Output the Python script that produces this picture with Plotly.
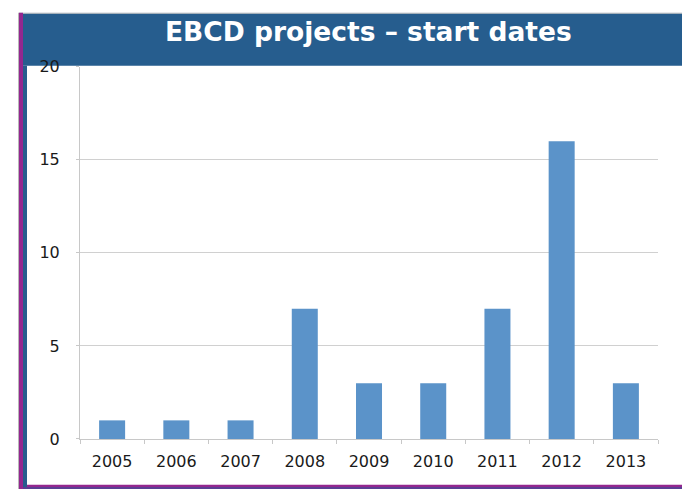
import plotly.graph_objects as go

W, H = 682, 499

years = ['2005', '2006', '2007', '2008', '2009', '2010', '2011', '2012', '2013']
counts = [1, 1, 1, 7, 3, 3, 7, 16, 3]
y_ticks = [0, 5, 10, 15, 20]
title_text = 'EBCD projects – start dates'


def px(x):
    return x / W


def py(y):
    return 1 - y / H


fig = go.Figure(
    go.Bar(
        x=years, y=counts, width=0.405,
        marker=dict(color='#5B93C9', line=dict(width=0)),
        hoverinfo='x+y',
    )
)

axis_col = '#C8C8C8'
tick_font = dict(family='DejaVu Sans', size=16, color='#1a1a1a')

fig.update_layout(
    autosize=True,
    margin=dict(l=0, r=0, t=0, b=0),
    paper_bgcolor='white', plot_bgcolor='white',
    showlegend=False,
    xaxis=dict(
        domain=[px(80), px(658)], type='category',
        showgrid=False, showline=True, linecolor=axis_col, linewidth=1,
        ticks='outside', tickson='boundaries', ticklen=4, tickcolor=axis_col,
        tickfont=tick_font, ticklabelstandoff=8,
    ),
    yaxis=dict(
        domain=[py(447), py(60)], range=[0, 20], tickvals=y_ticks,
        showgrid=True, gridcolor='#D0D0D0', gridwidth=1, zeroline=False,
        showline=True, linecolor=axis_col, linewidth=1,
        ticks='outside', ticklen=3, tickcolor=axis_col,
        tickfont=tick_font, ticklabelstandoff=13,
    ),
    shapes=[
        # title bar
        dict(type='rect', xref='paper', yref='paper', x0=px(23), x1=px(682), y0=py(59), y1=py(5),
             fillcolor='#265D8E', line=dict(width=0), layer='below'),
        dict(type='rect', xref='paper', yref='paper', x0=px(19), x1=px(682), y0=py(5), y1=py(4),
             fillcolor='#9AA4AE', line=dict(width=0), layer='below'),
        # left border
        dict(type='rect', xref='paper', yref='paper', x0=px(18), x1=px(19), y0=py(499), y1=py(4),
             fillcolor='#B8B8B8', line=dict(width=0), layer='above'),
        dict(type='rect', xref='paper', yref='paper', x0=px(19), x1=px(23), y0=py(499), y1=py(4),
             fillcolor='#93278F', line=dict(width=0), layer='above'),
        dict(type='rect', xref='paper', yref='paper', x0=px(23), x1=px(27), y0=py(499), y1=py(59),
             fillcolor='#265D8E', line=dict(width=0), layer='above'),
        # bottom border
        dict(type='rect', xref='paper', yref='paper', x0=px(27), x1=px(682), y0=py(497), y1=py(494.5),
             fillcolor='#93278F', line=dict(width=0), layer='above'),
        dict(type='rect', xref='paper', yref='paper', x0=px(23), x1=px(682), y0=py(499), y1=py(497),
             fillcolor='#5A3F93', line=dict(width=0), layer='above'),
    ],
    annotations=[
        dict(text=title_text, xref='paper', yref='paper', x=px(368), y=py(23.5),
             xanchor='center', yanchor='middle', showarrow=False,
             font=dict(family='DejaVu Sans', size=26.5, color='white', weight='bold')),
    ],
)

post = (
    "document.documentElement.style.margin='0';"
    "document.documentElement.style.overflow='hidden';"
    "document.body.style.margin='0';"
    "document.body.style.padding='0';"
    "document.body.style.overflow='hidden';"
    "var gd=document.getElementById('{plot_id}');"
    "gd.style.position='fixed';gd.style.left='0px';gd.style.top='0px';"
    "gd.style.width='100vw';gd.style.height='100vh';"
    "Plotly.Plots.resize(gd);"
)

fig.write_html('out.html', config={'displayModeBar': False, 'responsive': True},
               default_width='100vw', default_height='100vh', post_script=post)
